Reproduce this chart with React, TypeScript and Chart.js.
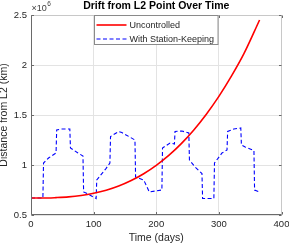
import React, { useEffect, useRef } from "react";
import { Chart, registerables } from "chart.js";

Chart.register(...registerables);

// ---- data (distance in units of 10^6 km) ----
const uncontrolledDays = [0, 20, 40, 60, 80, 100, 120, 140, 160, 180, 200, 220, 240, 260, 280, 300, 320, 340, 365];
const uncontrolledValues = [0.67, 0.67, 0.674, 0.681, 0.695, 0.717, 0.748, 0.79, 0.845, 0.913, 0.997, 1.096, 1.214, 1.351, 1.508, 1.686, 1.888, 2.113, 2.45];

const stationDays = [0, 19, 20, 28, 40, 41, 48, 62, 63, 75, 83, 84, 91, 104, 105, 120, 126, 127, 140, 145, 166, 167, 180, 189, 209, 210, 222, 229, 230, 241, 252, 253, 262, 273, 274, 292, 293, 305, 313, 314, 324, 335, 336, 342, 356, 357, 365];
const stationValues = [0.67, 0.67, 1.02, 1.07, 1.12, 1.35, 1.36, 1.36, 1.17, 1.12, 1.09, 0.73, 0.71, 0.665, 0.85, 0.967, 1.02, 1.285, 1.335, 1.325, 1.25, 0.88, 0.85, 0.73, 0.75, 1.17, 1.22, 1.21, 1.335, 1.34, 1.32, 1.05, 0.98, 0.915, 0.665, 0.665, 1.02, 1.12, 1.15, 1.335, 1.36, 1.37, 1.2, 1.18, 1.145, 0.75, 0.73];

const xTicks = [0, 100, 200, 300, 400];
const yTicks = [0.5, 1, 1.5, 2, 2.5];

const seriesLabels = ["Uncontrolled", "With Station-Keeping"];
const titleText = "Drift from L2 Point Over Time";
const xTitle = "Time (days)";
const yTitle = "Distance from L2 (km)";
const exponentBase = "×10";
const exponentPower = "6";

const FONT = "'Liberation Sans', Arial, Helvetica, sans-serif";
const TEXT = "#262626";

const framePlugin = {
  id: "frameAndLegend",
  afterDatasetsDraw(chart: any) {
    const { ctx, chartArea: a, scales } = chart;
    const x = scales.x;
    const y = scales.y;
    const L = Math.round(a.left) + 0.5;
    const R = Math.round(a.right) - 0.5;
    const T = Math.round(a.top) + 0.5;
    const B = Math.round(a.bottom) - 0.5;
    ctx.save();
    ctx.lineWidth = 1;
    // top / right box lines
    ctx.strokeStyle = "#c8c8c8";
    ctx.beginPath();
    ctx.moveTo(L, T);
    ctx.lineTo(R, T);
    ctx.lineTo(R, B);
    ctx.stroke();
    // left / bottom axis lines
    ctx.strokeStyle = "#6a6a6a";
    ctx.beginPath();
    ctx.moveTo(L, T);
    ctx.lineTo(L, B);
    ctx.lineTo(R, B);
    ctx.stroke();
    // inward ticks
    const tl = 2.5;
    ctx.strokeStyle = "#6a6a6a";
    ctx.beginPath();
    xTicks.forEach((v) => {
      const px = Math.round(x.getPixelForValue(v)) + 0.5;
      ctx.moveTo(px, B);
      ctx.lineTo(px, B - tl);
      ctx.moveTo(px, T);
      ctx.lineTo(px, T + tl);
    });
    yTicks.forEach((v) => {
      const py = Math.round(y.getPixelForValue(v)) + 0.5;
      ctx.moveTo(L, py);
      ctx.lineTo(L + tl, py);
      ctx.moveTo(R, py);
      ctx.lineTo(R - tl, py);
    });
    ctx.stroke();

    // exponent label
    ctx.fillStyle = "#404040";
    ctx.textBaseline = "alphabetic";
    ctx.textAlign = "left";
    ctx.font = `9px ${FONT}`;
    ctx.fillText(exponentBase, a.left + 0.5, 10.5);
    const w = ctx.measureText(exponentBase).width;
    ctx.font = `6.5px ${FONT}`;
    ctx.fillText(exponentPower, a.left + 0.5 + w + 0.5, 6);

    // title
    ctx.fillStyle = "#000";
    ctx.font = `bold 10.5px ${FONT}`;
    ctx.textAlign = "center";
    ctx.textBaseline = "middle";
    ctx.fillText(titleText, (a.left + a.right) / 2, 6.5);

    // legend
    ctx.font = `9px ${FONT}`;
    const widths = seriesLabels.map((s) => ctx.measureText(s).width);
    const lineLen = 30;
    const boxW = 2 + lineLen + 3 + Math.max(...widths) + 4;
    const boxL = Math.round((a.left + a.right) / 2 - boxW / 2) + 0.5;
    const boxT = T;
    const boxH = 29;
    ctx.fillStyle = "#fff";
    ctx.fillRect(boxL, boxT, boxW, boxH);
    ctx.strokeStyle = "#8a8a8a";
    ctx.strokeRect(boxL, boxT, boxW, boxH);
    const rows = [boxT + 9.5, boxT + 23.5];
    const ds = chart.data.datasets;
    ds.forEach((d: any, i: number) => {
      ctx.save();
      ctx.strokeStyle = d.borderColor;
      ctx.lineWidth = d.borderWidth;
      ctx.setLineDash(d.borderDash || []);
      ctx.beginPath();
      ctx.moveTo(boxL + 2, rows[i]);
      ctx.lineTo(boxL + 2 + lineLen, rows[i]);
      ctx.stroke();
      ctx.restore();
      ctx.fillStyle = TEXT;
      ctx.textAlign = "left";
      ctx.textBaseline = "middle";
      ctx.fillText(d.label, boxL + 2 + lineLen + 3, rows[i] + 0.5);
    });
    ctx.restore();
  },
};

export default function App() {
  const ref = useRef<HTMLCanvasElement | null>(null);
  useEffect(() => {
    if (!ref.current) return;
    const chart = new Chart(ref.current, {
      type: "line",
      data: {
        datasets: [
          {
            label: seriesLabels[0],
            data: uncontrolledDays.map((d, i) => ({ x: d, y: uncontrolledValues[i] })),
            borderColor: "#ff0000",
            borderWidth: 1.6,
            pointRadius: 0,
            cubicInterpolationMode: "monotone",
            fill: false,
          },
          {
            label: seriesLabels[1],
            data: stationDays.map((d, i) => ({ x: d, y: stationValues[i] })),
            borderColor: "#0000ff",
            borderWidth: 1.1,
            borderDash: [4, 2.5],
            pointRadius: 0,
            tension: 0,
            fill: false,
          },
        ],
      },
      options: {
        animation: false,
        responsive: false,
        layout: { padding: { top: 15, right: 7.5, left: 0, bottom: 0 } },
        plugins: {
          legend: { display: false },
          title: { display: false },
          tooltip: { enabled: false },
        },
        scales: {
          x: {
            type: "linear",
            min: 0,
            max: 400,
            afterBuildTicks: (s: any) => {
              s.ticks = xTicks.map((v) => ({ value: v }));
            },
            ticks: {
              maxRotation: 0,
              padding: 4,
              color: TEXT,
              font: { family: FONT, size: 9.5 },
              callback: (v: any) => String(v),
            },
            grid: { color: "#e3e3e3", drawTicks: false },
            border: { display: false },
            title: {
              display: true,
              text: xTitle,
              color: TEXT,
              font: { family: FONT, size: 10.5 },
              padding: { top: 0, bottom: 1.5 },
            },
            afterFit: (s: any) => {
              s.height = 31;
              s.paddingLeft = 0;
              s.paddingRight = 0;
            },
          },
          y: {
            type: "linear",
            min: 0.5,
            max: 2.5,
            afterBuildTicks: (s: any) => {
              s.ticks = yTicks.map((v) => ({ value: v }));
            },
            ticks: {
              padding: 4,
              color: TEXT,
              font: { family: FONT, size: 9.5 },
              callback: (v: any) => String(v),
            },
            grid: { color: "#e3e3e3", drawTicks: false },
            border: { display: false },
            title: {
              display: true,
              text: yTitle,
              color: TEXT,
              font: { family: FONT, size: 10.5, lineHeight: 1 },
              padding: { top: -1, bottom: 0 },
            },
            afterFit: (s: any) => {
              s.width = 31;
              s.paddingTop = 0;
              s.paddingBottom = 0;
            },
          },
        },
      },
      plugins: [framePlugin],
    });
    return () => chart.destroy();
  }, []);
  return (
    <div style={{ position: "fixed", left: 0, top: 0, width: 289, height: 246, background: "#fff" }}>
      <canvas ref={ref} width={289} height={246} style={{ display: "block" }} />
    </div>
  );
}
